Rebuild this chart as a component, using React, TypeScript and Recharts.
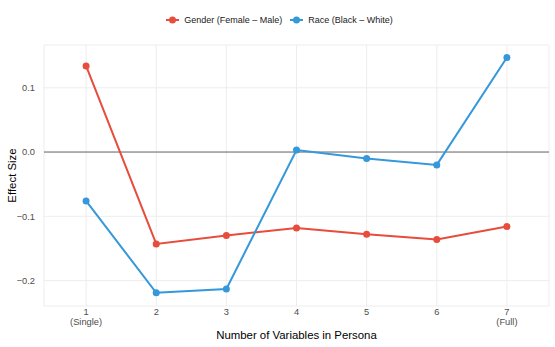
import { LineChart, Line, XAxis, YAxis, CartesianGrid, ReferenceLine, Legend } from "recharts"

const steps = [1, 2, 3, 4, 5, 6, 7]
const stepNotes = ["(Single)", "", "", "", "", "", "(Full)"]
const gender = [0.134, -0.143, -0.13, -0.118, -0.128, -0.136, -0.116]
const race = [-0.076, -0.219, -0.213, 0.003, -0.01, -0.02, 0.147]
const yTicks = [-0.2, -0.1, 0, 0.1]

const seriesInfo = [
  { key: "gender", name: "Gender (Female \u2013 Male)", color: "#E74C3C" },
  { key: "race", name: "Race (Black \u2013 White)", color: "#3498DB" },
]

const data = steps.map((s, i) => ({ step: s, gender: gender[i], race: race[i] }))

const FONT = "'Liberation Sans', Arial, sans-serif"

const fmtY = (v: number) => (v < 0 ? "\u2212" + Math.abs(v).toFixed(1) : v.toFixed(1))

function XTick(props: any) {
  const { x, y, payload } = props
  const i = steps.indexOf(payload.value)
  return (
    <g>
      <text x={x} y={y + 1} textAnchor="middle" fontSize={9.3} fill="#4d4d4d" fontFamily={FONT}>
        {payload.value}
      </text>
      {stepNotes[i] ? (
        <text x={x} y={y + 11} textAnchor="middle" fontSize={9.3} fill="#4d4d4d" fontFamily={FONT}>
          {stepNotes[i]}
        </text>
      ) : null}
    </g>
  )
}

function LegendBox() {
  return (
    <div style={{ display: "flex", justifyContent: "center", alignItems: "center", fontFamily: FONT, fontSize: 9, color: "#1a1a1a", paddingLeft: 12 }}>
      {seriesInfo.map((s) => (
        <div key={s.key} style={{ display: "flex", alignItems: "center", marginRight: 8 }}>
          <svg width={13} height={10} style={{ marginRight: 5 }}>
            <line x1={0} y1={5} x2={13} y2={5} stroke={s.color} strokeWidth={2} />
            <circle cx={6.5} cy={5} r={3.5} fill={s.color} />
          </svg>
          <span>{s.name}</span>
        </div>
      ))}
    </div>
  )
}

export default function App() {
  return (
    <div style={{ position: "absolute", left: 0, top: 0, width: 555, height: 347, background: "#fff" }}>
      <LineChart width={555} height={347} data={data} margin={{ top: 35, right: 6, left: 0, bottom: 0 }}>
        <CartesianGrid stroke="#ebebeb" strokeWidth={0.9} />
        <XAxis
          dataKey="step"
          type="number"
          domain={[0.4, 7.6]}
          ticks={steps}
          tick={<XTick />}
          axisLine={false}
          tickLine={false}
          height={41}
          label={{ value: "Number of Variables in Persona", position: "insideBottom", offset: 8, fontSize: 11.4, fill: "#000", fontFamily: FONT }}
        />
        <YAxis
          type="number"
          domain={[-0.2395, 0.1665]}
          ticks={yTicks}
          tickFormatter={fmtY}
          tick={{ fontSize: 9.3, fill: "#4d4d4d", fontFamily: FONT }}
          axisLine={false}
          tickLine={false}
          tickMargin={3}
          width={44}
          label={{ value: "Effect Size", angle: -90, position: "insideLeft", offset: 12, fontSize: 11.4, fill: "#000", fontFamily: FONT, style: { textAnchor: "middle" } }}
        />
        <Legend
          verticalAlign="top"
          content={<LegendBox />}
          wrapperStyle={{ top: 15, left: 0, width: 555 }}
        />
        <ReferenceLine y={0} stroke="#5a5a5a" strokeWidth={0.9} />
        {seriesInfo.map((s) => (
          <Line
            key={s.key}
            type="linear"
            dataKey={s.key}
            name={s.name}
            stroke={s.color}
            strokeWidth={2}
            dot={{ r: 3.5, fill: s.color, stroke: "none" }}
            activeDot={false}
            isAnimationActive={false}
          />
        ))}
      </LineChart>
    </div>
  )
}
